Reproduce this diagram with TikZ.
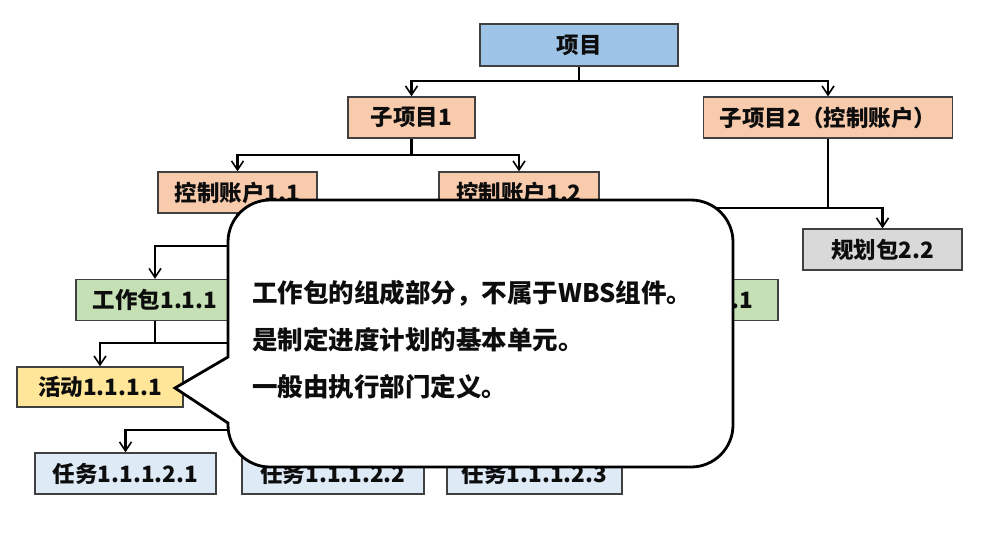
\documentclass[tikz,border=0pt]{standalone}
\usepackage{fontspec}
\newfontfamily\cjk{Noto Sans CJK SC}
\usetikzlibrary{arrows.meta}
\definecolor{cBlue}{HTML}{9DC3E6}
\definecolor{cPeach}{HTML}{F8CBAD}
\definecolor{cGreen}{HTML}{C5E0B4}
\definecolor{cGray}{HTML}{D9D9D9}
\definecolor{cYellow}{HTML}{FFE699}
\definecolor{cLBlue}{HTML}{DEEBF7}
\definecolor{cBorder}{HTML}{404040}
\definecolor{cText}{HTML}{0D0D0D}
\begin{document}
\begin{tikzpicture}[x=1pt,y=-1pt,
  box/.style={draw=cBorder,line width=1.3pt,inner sep=0pt,minimum height=41pt,
    font=\cjk\bfseries\fontsize{22.5}{26}\selectfont,text=cText},
  conn/.style={line width=2.2pt,draw=black},
  arr/.style={conn,-{Straight Barb[length=9pt,width=12pt,line width=1.6pt]}},
  callout/.style={draw=black,fill=white,line width=2.8pt},
  ctext/.style={anchor=west,inner sep=0pt,font=\cjk\bfseries\fontsize{25.5}{30}\selectfont,text=cText}]
\useasboundingbox[fill=white] (0,0) rectangle (987,558);

% nodes
\node[box,fill=cBlue,minimum width=198pt,minimum height=42pt] (p) at (579,45) {项目};
\node[box,fill=cPeach,minimum width=127pt] (s1) at (411.5,117.5) {子项目1};
\node[box,fill=cPeach,minimum width=249pt] (s2) at (828,117.5) {子项目2（控制账户）};
\node[box,fill=cPeach,minimum width=159pt] (c11) at (237.5,192.5) {控制账户1.1};
\node[box,fill=cPeach,minimum width=160pt] (c12) at (519,192.5) {控制账户1.2};
\node[box,fill=cGreen,minimum width=158pt] (w111) at (155,300) {工作包1.1.1};
\node[box,fill=cGreen,minimum width=158pt,text width=108pt,align=right] (w21) at (699,300) {.1};
\node[box,fill=cGray,minimum width=159pt] (g22) at (882.5,249.5) {规划包2.2};
\node[box,fill=cYellow,minimum width=166pt,minimum height=40pt] (a) at (100,387) {活动1.1.1.1};
\node[box,fill=cLBlue,minimum width=181pt] (t1) at (125.5,473.5) {任务1.1.1.2.1};
\node[box,fill=cLBlue,minimum width=182pt] (t2) at (333,473.5) {任务1.1.1.2.2};
\node[box,fill=cLBlue,minimum width=175pt] (t3) at (534.5,473.5) {任务1.1.1.2.3};

% connectors
\coordinate (j1) at (579,81);
\draw[conn] (p.south) -- (j1);
\draw[arr] (j1) -| (s1.north);
\draw[arr] (j1) -| (s2.north);

\coordinate (j2) at (411.5,155);
\draw[conn] (s1.south) -- (j2);
\draw[arr] (j2) -| (c11.north);
\draw[arr] (j2) -| (c12.north);

\coordinate (j3) at (237.5,246);
\draw[conn] (c11.south) -- (j3);
\draw[arr] (j3) -| (w111.north);

\coordinate (j4) at (155,343);
\coordinate (h4) at (400,343);
\draw[conn] (w111.south) -- (j4);
\draw[arr] (j4) -| (a.north);
\draw[conn] (j4) -- (h4);

\coordinate (j5) at (333,430);
\draw[arr] (j5) -| (t1.north);
\draw[arr] (j5) -- (t2.north);
\draw[arr] (j5) -| (t3.north);

\coordinate (j6) at (828,208);
\draw[conn] (s2.south) -- (j6);
\draw[arr] (j6) -| (g22.north);
\draw[arr] (j6) -| (w21.north);

% callout
\draw[callout] (228,423) [rounded corners=42pt] -- (228,467) -- (733,467) -- (733,200) -- (228,200) -- (228,300)
  [sharp corners] -- (228,357) -- (175,388) -- cycle;
\node[ctext] (ct1) at (252,293) {工作包的组成部分，不属于WBS组件。};
\node[ctext] (ct2) at (252,340) {是制定进度计划的基本单元。};
\node[ctext] (ct3) at (252,387) {一般由执行部门定义。};
\end{tikzpicture}
\end{document}
